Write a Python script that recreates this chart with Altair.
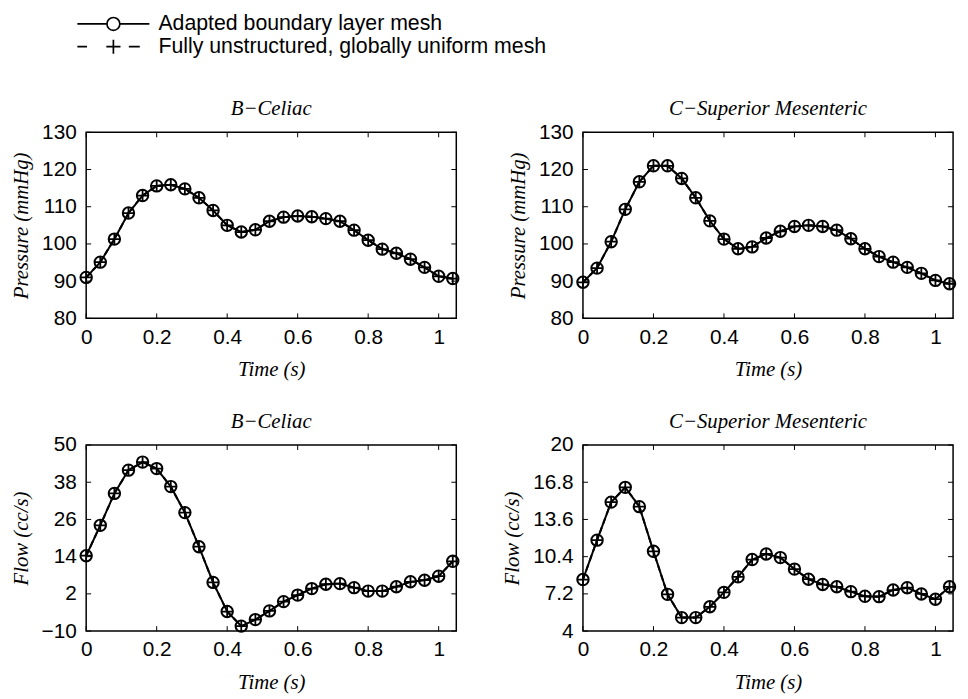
import altair as alt
import pandas as pd

A = "Adapted boundary layer mesh"
U = "Fully unstructured, globally uniform mesh"

TIME = [0.00, 0.04, 0.08, 0.12, 0.16, 0.20, 0.24, 0.28, 0.32, 0.36, 0.40, 0.44, 0.48, 0.52,
        0.56, 0.60, 0.64, 0.68, 0.72, 0.76, 0.80, 0.84, 0.88, 0.92, 0.96, 1.00, 1.04]

# B-Celiac pressure (mmHg)
P_CELIAC_ADAPTED = [91.0, 95.1, 101.3, 108.3, 113.0, 115.6, 115.9, 114.8, 112.4, 109.0, 105.0, 103.2, 103.8, 106.1,
                    107.2, 107.5, 107.3, 106.8, 106.1, 103.7, 101.0, 98.6, 97.5, 95.9, 93.7, 91.3, 90.7]
P_CELIAC_UNIFORM = [91.0, 95.1, 101.3, 108.3, 113.0, 115.6, 115.9, 114.8, 112.4, 109.0, 105.0, 103.2, 103.8, 106.1,
                    107.2, 107.5, 107.3, 106.8, 106.1, 103.7, 101.0, 98.6, 97.5, 95.9, 93.7, 91.3, 90.7]
# C-Superior Mesenteric pressure (mmHg)
P_SMA_ADAPTED = [89.7, 93.5, 100.6, 109.3, 116.7, 121.0, 121.0, 117.6, 112.4, 106.2, 101.3, 98.7, 99.2, 101.6,
                 103.4, 104.7, 105.0, 104.7, 103.7, 101.4, 98.7, 96.6, 95.1, 93.7, 92.1, 90.2, 89.3]
P_SMA_UNIFORM = [89.7, 93.5, 100.6, 109.3, 116.7, 121.0, 121.0, 117.6, 112.4, 106.2, 101.3, 98.7, 99.2, 101.6,
                 103.4, 104.7, 105.0, 104.7, 103.7, 101.4, 98.7, 96.6, 95.1, 93.7, 92.1, 90.2, 89.3]
# B-Celiac flow (cc/s)
Q_CELIAC_ADAPTED = [14.3, 24.1, 34.4, 41.9, 44.5, 42.4, 36.6, 28.2, 17.2, 5.7, -3.7, -8.4, -6.3, -3.5,
                    -0.5, 1.6, 3.7, 5.1, 5.3, 4.0, 2.9, 2.9, 4.3, 5.9, 6.4, 7.7, 12.5]
Q_CELIAC_UNIFORM = [14.3, 24.1, 34.4, 41.9, 44.5, 42.4, 36.6, 28.2, 17.2, 5.7, -3.7, -8.4, -6.3, -3.5,
                    -0.5, 1.6, 3.7, 5.1, 5.3, 4.0, 2.9, 2.9, 4.3, 5.9, 6.4, 7.7, 12.5]
# C-Superior Mesenteric flow (cc/s)
Q_SMA_ADAPTED = [8.43, 11.82, 15.09, 16.36, 14.70, 10.86, 7.16, 5.16, 5.16, 6.09, 7.33, 8.66, 10.15, 10.63,
                 10.32, 9.33, 8.46, 8.01, 7.81, 7.39, 6.99, 6.96, 7.53, 7.73, 7.19, 6.74, 7.81]
Q_SMA_UNIFORM = [8.43, 11.82, 15.09, 16.36, 14.70, 10.86, 7.16, 5.16, 5.16, 6.09, 7.33, 8.66, 10.15, 10.63,
                 10.32, 9.33, 8.46, 8.01, 7.81, 7.39, 6.99, 6.96, 7.53, 7.73, 7.19, 6.74, 7.81]

X_TICKS = [0, 0.2, 0.4, 0.6, 0.8, 1.0]
P_TICKS = [80, 90, 100, 110, 120, 130]
QC_TICKS = [-10, 2, 14, 26, 38, 50]
QS_TICKS = [4, 7.2, 10.4, 13.6, 16.8, 20]

W, H = 374, 188
TICK = 5

PLUS = "M-1,0L1,0M0,-1L0,1"
LEG_A = "M-5.6,0L-1,0M1,0L5.6,0M1,0A1,1,0,1,1,-1,0A1,1,0,1,1,1,0"
LEG_U = "M-5.6,0L-4.1,0M-1.1,0L1.1,0M0,-1.1L0,1.1M2.4,0L4.1,0"


def panel(adapted, uniform, title, ytitle, ydomain, yticks):
    df = pd.DataFrame({
        "t": TIME + TIME,
        "v": adapted + uniform,
        "series": [A] * len(TIME) + [U] * len(TIME),
    })
    x = alt.X("t:Q", scale=alt.Scale(domain=[0, 1.05], nice=False, zero=False),
              axis=alt.Axis(values=X_TICKS, format=".4~r", title="Time (s)", labelFlush=False))
    y = alt.Y("v:Q", scale=alt.Scale(domain=ydomain, nice=False, zero=False),
              axis=alt.Axis(values=yticks, format=".4~r", title=ytitle))
    base = alt.Chart(df)
    lines = base.mark_line(color="black", strokeWidth=2).encode(
        x=x, y=y,
        strokeDash=alt.StrokeDash("series:N", scale=alt.Scale(domain=[A, U], range=[[1, 0], [6, 4]]), legend=None),
    )
    circles = base.transform_filter(alt.datum.series == A).mark_point(
        shape="circle", size=133, filled=False, color="black", strokeWidth=2, opacity=1
    ).encode(x=x, y=y)
    pluses = base.transform_filter(alt.datum.series == U).mark_point(
        shape=PLUS, size=144, filled=False, color="black", strokeWidth=1.8, opacity=1
    ).encode(x=x, y=y)
    xt = pd.DataFrame({"t": X_TICKS})
    yt = pd.DataFrame({"v": yticks})
    xb = alt.Chart(xt).mark_rule(color="black", strokeWidth=1).encode(x=x, y=alt.value(H), y2=alt.value(H - TICK))
    xtop = alt.Chart(xt).mark_rule(color="black", strokeWidth=1).encode(x=x, y=alt.value(0), y2=alt.value(TICK))
    yl = alt.Chart(yt).mark_rule(color="black", strokeWidth=1).encode(y=y, x=alt.value(0), x2=alt.value(TICK))
    yr = alt.Chart(yt).mark_rule(color="black", strokeWidth=1).encode(y=y, x=alt.value(W - TICK), x2=alt.value(W))
    return alt.layer(lines, circles, pluses, xb, xtop, yl, yr).properties(
        width=W, height=H,
        title=alt.TitleParams(title, font="Liberation Serif", fontStyle="italic", fontWeight="normal",
                              fontSize=21, color="black", offset=2),
    )


# legend drawn as a small chart of the two mesh types
leg_df = pd.DataFrame({"series": [A, U]})
leg_y = alt.Y("series:N", scale=alt.Scale(domain=[A, U]), axis=None)
leg_sym = alt.Chart(leg_df).mark_point(filled=False, color="black", strokeWidth=1.7, size=169, opacity=1).encode(
    x=alt.value(27.5), y=leg_y,
    shape=alt.Shape("series:N", scale=alt.Scale(domain=[A, U], range=[LEG_A, LEG_U]), legend=None),
)
leg_txt = alt.Chart(leg_df).mark_text(
    align="left", baseline="middle", font="Liberation Sans", fontSize=21.5, color="black"
).encode(x=alt.value(73), y=leg_y, text="series:N")
legend_chart = alt.layer(leg_sym, leg_txt).properties(
    width=600, height=46, view=alt.ViewBackground(stroke="transparent")
)

p1 = panel(P_CELIAC_ADAPTED, P_CELIAC_UNIFORM, "B\u2212Celiac", "Pressure (mmHg)", [80, 130], P_TICKS)
p2 = panel(P_SMA_ADAPTED, P_SMA_UNIFORM, "C\u2212Superior Mesenteric", "Pressure (mmHg)", [80, 130], P_TICKS)
p3 = panel(Q_CELIAC_ADAPTED, Q_CELIAC_UNIFORM, "B\u2212Celiac", "Flow (cc/s)", [-10, 50], QC_TICKS)
p4 = panel(Q_SMA_ADAPTED, Q_SMA_UNIFORM, "C\u2212Superior Mesenteric", "Flow (cc/s)", [4, 20], QS_TICKS)

grid = alt.concat(p1, p2, p3, p4, columns=2, spacing={"row": 30, "column": 38})

chart = alt.vconcat(legend_chart, grid, spacing=39).properties(
    padding={"left": 1, "top": 0, "right": 0, "bottom": 0}, background="white"
).configure_view(stroke="black", strokeWidth=1.5).configure_axis(
    domain=False, ticks=False, grid=False,
    labelFont="Liberation Sans", labelFontSize=21, labelColor="black",
    titleFont="Liberation Serif", titleFontStyle="italic", titleFontWeight="normal",
    titleFontSize=21, titleColor="black",
).configure_axisX(labelPadding=8, titlePadding=12).configure_axisY(labelPadding=10, titlePadding=10)

chart.save("out.html", embed_options={"renderer": "svg", "actions": False})
